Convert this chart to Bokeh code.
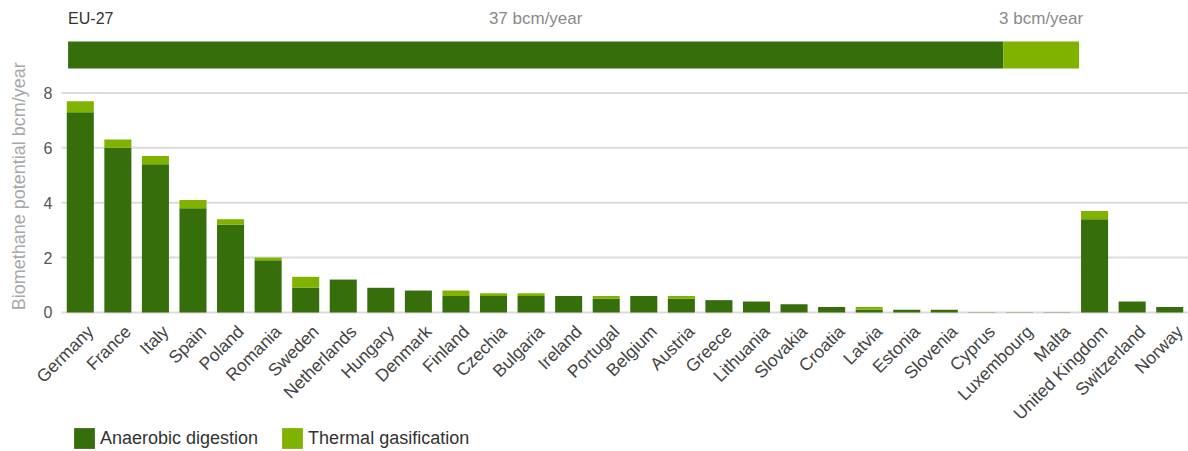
from math import pi
from bokeh.plotting import figure
from bokeh.models import ColumnDataSource, Range1d, Legend, LegendItem
from bokeh.embed import file_html
from bokeh.resources import INLINE
from bokeh.core.properties import value

countries = ["Germany", "France", "Italy", "Spain", "Poland", "Romania", "Sweden",
             "Netherlands", "Hungary", "Denmark", "Finland", "Czechia", "Bulgaria",
             "Ireland", "Portugal", "Belgium", "Austria", "Greece", "Lithuania",
             "Slovakia", "Croatia", "Latvia", "Estonia", "Slovenia", "Cyprus",
             "Luxembourg", "Malta", "United Kingdom", "Switzerland", "Norway"]
anaerobic = [7.3, 6.0, 5.4, 3.8, 3.2, 1.9, 0.9, 1.2, 0.9, 0.8, 0.6, 0.6, 0.6,
             0.6, 0.5, 0.6, 0.5, 0.45, 0.4, 0.3, 0.2, 0.1, 0.1, 0.1, 0.01,
             0.01, 0.01, 3.4, 0.4, 0.2]
thermal = [0.4, 0.3, 0.3, 0.3, 0.2, 0.1, 0.4, 0.0, 0.0, 0.0, 0.2, 0.1, 0.1,
           0.0, 0.1, 0.0, 0.1, 0.0, 0.0, 0.0, 0.0, 0.1, 0.0, 0.0, 0.0,
           0.0, 0.0, 0.3, 0.0, 0.0]
series_names = ["Anaerobic digestion", "Thermal gasification"]
eu_label = "EU-27"
eu_values = [37, 3]
eu_texts = ["37 bcm/year", "3 bcm/year"]
y_ticks = [0, 2, 4, 6, 8]
y_title = "Biomethane potential bcm/year"

DARK = "#376E0C"
LIGHT = "#80B300"
FONT = "Liberation Sans"

n = len(countries)
idx = list(range(n))
src = ColumnDataSource(dict(idx=idx, country=countries, ad=anaerobic, tg=thermal,
                            base=[0] * n))
p = figure(width=1188, height=451,
           x_range=Range1d(-2.124, n - 0.5),
           y_range=Range1d(-5.066, 11.37), output_backend="svg",
           toolbar_location=None, x_axis_location=None, y_axis_location=None,
           min_border=0)
p.extra_x_ranges = {"eu": Range1d(-2.674, 44.33)}
p.extra_y_ranges = {"eu": Range1d(-14.685, 2.019)}
p.xgrid.visible = False
p.ygrid.visible = False
p.outline_line_color = None

# horizontal grid lines and y tick labels
left_edge = -0.5
right_edge = n - 0.5
p.segment(x0=[left_edge] * len(y_ticks), x1=[right_edge] * len(y_ticks),
          y0=y_ticks, y1=y_ticks, line_color="#dcdcdc", line_width=2)
p.text(x=[left_edge] * len(y_ticks), y=y_ticks, text=[str(t) for t in y_ticks],
       x_offset=-9, text_align="right", text_baseline="middle",
       text_font=value(FONT), text_font_size="16px", text_color="#555555")
p.text(x=[left_edge], y=[4.6], text=[y_title], angle=pi / 2, x_offset=-43,
       text_align="center", text_baseline="middle", text_font=value(FONT),
       text_font_size="18px", text_color="#a8a8a8")

rs = p.vbar_stack(["ad", "tg"], x="idx", width=0.72, color=[DARK, LIGHT],
                  line_color=None, source=src)

# category labels (rotated)
p.text(x="idx", y="base", text="country", source=src, angle=pi / 4,
       text_align="right", text_baseline="top", x_offset=3, y_offset=9,
       text_font=value(FONT), text_font_size="17.5px", text_color="#444444")

# EU-27 total bar
eu_left = [0, eu_values[0]]
eu_right = [eu_values[0], eu_values[0] + eu_values[1]]
eu_mid = [(a + b) / 2 for a, b in zip(eu_left, eu_right)]
p.hbar(y=[0, 0], left=eu_left, right=eu_right, height=1.0, color=[DARK, LIGHT],
       line_color=None, x_range_name="eu", y_range_name="eu")
p.text(x=[0], y=[1.352], text=[eu_label], text_font=value(FONT),
       text_font_size="16px", text_color="#333333", text_baseline="middle",
       text_align="left", x_range_name="eu", y_range_name="eu")
p.text(x=eu_mid, y=[1.352, 1.352], text=eu_texts, text_font=value(FONT),
       text_font_size="17px", text_color="#8a8a8a", text_baseline="middle",
       text_align="center", x_range_name="eu", y_range_name="eu")

legend = Legend(items=[LegendItem(label=series_names[0], renderers=[rs[0]]),
                       LegendItem(label=series_names[1], renderers=[rs[1]])],
                orientation="horizontal", location=(71, 0))
legend.label_text_font = FONT
legend.label_text_font_size = "18px"
legend.label_text_color = "#333333"
legend.glyph_width = 26
legend.glyph_height = 26
legend.label_standoff = 3
legend.spacing = 21
legend.border_line_color = None
legend.background_fill_alpha = 0
legend.margin = 0
legend.padding = 0
p.add_layout(legend)

open("out.html", "w").write(file_html(p, INLINE))
